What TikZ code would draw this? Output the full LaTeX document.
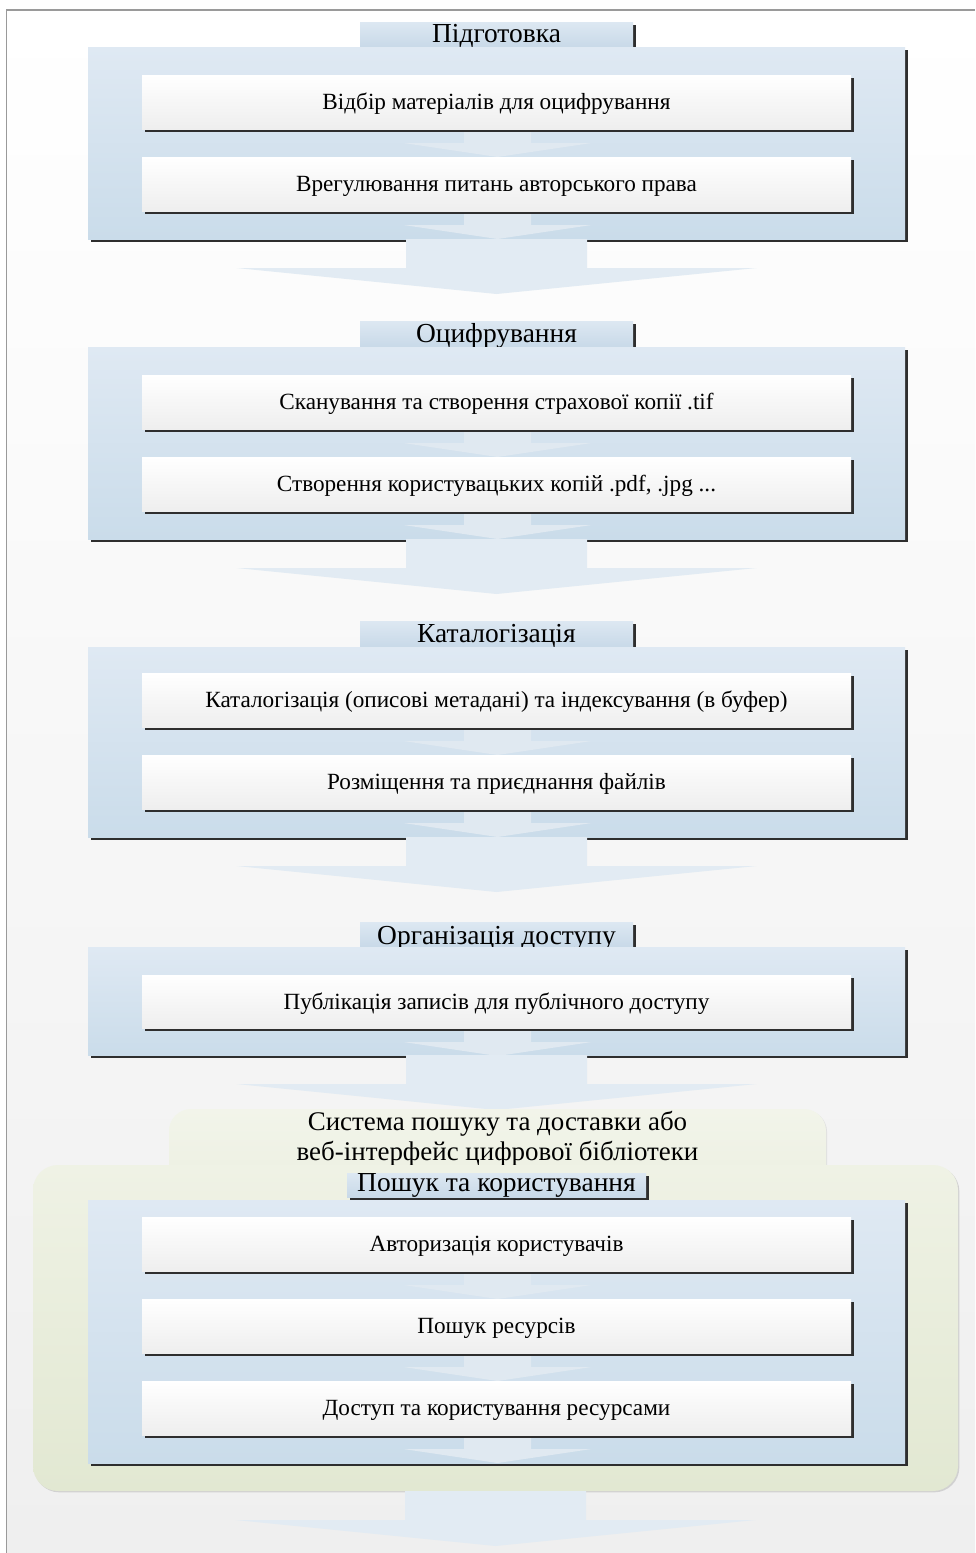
\documentclass[tikz,border=0pt]{standalone}
\usepackage{fontspec}
\setmainfont{Liberation Serif}
\usetikzlibrary{shadows}

\definecolor{frameline}{HTML}{9A9A9A}
\definecolor{bgbottom}{HTML}{EFEFEF}
\definecolor{blueTop}{HTML}{DFE9F3}
\definecolor{blueBot}{HTML}{CADCEA}
\definecolor{tabTop}{HTML}{DDE8F2}
\definecolor{tabBot}{HTML}{C8D9E8}
\definecolor{innerBot}{HTML}{EEEEEE}
\definecolor{arrowSide}{HTML}{E2EBF3}
\definecolor{arrowMid}{HTML}{C9DBEA}
\definecolor{smallSide}{HTML}{E0E9F1}
\definecolor{smallMid}{HTML}{FBFCFD}
\definecolor{greenTop}{HTML}{EFF2E5}
\definecolor{greenBot}{HTML}{E2E8D2}
\definecolor{greenBackTop}{HTML}{F2F4EA}
\definecolor{greenBackBot}{HTML}{EBEFDF}
\definecolor{shadowDark}{HTML}{2E2E2E}

% a box given by its pixel corners (x1,y1) and (x2,y2)
\newcommand\pbox[7]{%
  \node[#6, minimum width={(#4-#2)*0.75pt}, minimum height={(#5-#3)*0.75pt}]
    (#1) at ({(#2+#4)/2},{(#3+#5)/2}) {#7};}

% wide block arrow between stages
\newcommand\bigarrow[1]{%
  \shade[bigarrowshade, shift={(#1)}]
    (-90.5,0) -- (-90.5,29) -- (-260,29) -- (0,55) -- (260,29) -- (90.5,29) -- (90.5,0) -- cycle;}

% small block arrow between steps of one stage
\newcommand\smallarrow[1]{%
  \shade[smallarrowshade, shift={(#1)}]
    (-33.5,0) -- (-33.5,14) -- (-94,14) -- (0,28) -- (94,14) -- (33.5,14) -- (33.5,0) -- cycle;}

\tikzset{
  boxbase/.style={rectangle, inner sep=0pt, outer sep=0pt},
  darkshadow/.style={drop shadow={opacity=1, fill=shadowDark, shadow xshift=2.2pt, shadow yshift=-2.2pt}},
  stagebox/.style={boxbase, top color=blueTop, bottom color=blueBot, darkshadow},
  stagetab/.style={boxbase, top color=tabTop, bottom color=tabBot, darkshadow,
    text height=12.6pt, text depth=0pt,
    font=\fontsize{20.6pt}{24pt}\selectfont},
  stepbox/.style={boxbase, top color=white, bottom color=innerBot, darkshadow,
    text height=11.6pt, text depth=0pt,
    font=\fontsize{17.4pt}{20pt}\selectfont},
  bigarrowshade/.style={left color=arrowSide, middle color=arrowMid, right color=arrowSide},
  smallarrowshade/.style={left color=smallSide, middle color=smallMid, right color=smallSide},
  greenfront/.style={boxbase, rounded corners=18.75pt, top color=greenTop, bottom color=greenBot,
    drop shadow={opacity=1, fill=black!18, shadow xshift=1pt, shadow yshift=-1pt}},
  greenback/.style={boxbase, rounded corners=16.5pt, top color=greenBackTop, bottom color=greenBackBot,
    drop shadow={opacity=1, fill=black!12, shadow xshift=0.8pt, shadow yshift=-0.8pt}},
}

\begin{document}
\begin{tikzpicture}[x=0.75pt, y=-0.75pt]
\useasboundingbox (0,0) rectangle (975,1553);
\fill[white] (0,0) rectangle (975,1553);
\shade[top color=white, bottom color=bgbottom] (6.5,10) rectangle (975,1553);
\draw[frameline, line width=1.2pt] (6.5,1553) -- (6.5,10) -- (975,10);

% ---------- Stage 1 ----------
\pbox{t1}{360}{22}{633}{47}{stagetab}{Підготовка}
\pbox{s1}{88}{47}{905}{239}{stagebox}{}
\smallarrow{497.5,129}
\smallarrow{497.5,211}
\pbox{s1a}{142}{75}{851}{129}{stepbox}{Відбір матеріалів для оцифрування}
\pbox{s1b}{142}{157}{851}{211}{stepbox}{Врегулювання питань авторського права}
\bigarrow{s1.south}

% ---------- Stage 2 ----------
\pbox{t2}{360}{321}{633}{347}{stagetab}{Оцифрування}
\pbox{s2}{88}{347}{905}{539}{stagebox}{}
\smallarrow{497.5,429}
\smallarrow{497.5,511}
\pbox{s2a}{142}{375}{851}{429}{stepbox}{Сканування та створення страхової копії .tif}
\pbox{s2b}{142}{457}{851}{511}{stepbox}{Створення користувацьких копій .pdf, .jpg ...}
\bigarrow{s2.south}

% ---------- Stage 3 ----------
\pbox{t3}{360}{621}{633}{647}{stagetab}{Каталогізація}
\pbox{s3}{88}{647}{905}{837}{stagebox}{}
\smallarrow{497.5,727}
\smallarrow{497.5,809}
\pbox{s3a}{142}{673}{851}{727}{stepbox}{Каталогізація (описові метадані) та індексування (в буфер)}
\pbox{s3b}{142}{755}{851}{809}{stepbox}{Розміщення та приєднання файлів}
\bigarrow{s3.south}

% ---------- Stage 4 ----------
\pbox{t4}{360}{922}{633}{947}{stagetab, text height=15pt}{Організація доступу}
\pbox{s4}{88}{947}{905}{1055}{stagebox}{}
\smallarrow{497.5,1028}
\pbox{s4a}{142}{975}{851}{1028}{stepbox}{Публікація записів для публічного доступу}
\bigarrow{s4.south}

% ---------- Delivery system ----------
\pbox{g1}{169}{1109}{826}{1210}{greenback}{}
\node[font=\fontsize{20.2pt}{22.5pt}\selectfont, align=center, inner sep=0pt] (g1t) at (497.5,1139)
  {Система пошуку та доставки або\\веб-інтерфейс цифрової бібліотеки};
\pbox{g2}{33}{1165}{958}{1491}{greenfront}{}

% ---------- Stage 5 ----------
\pbox{t5}{347}{1173}{646}{1197}{stagetab, text height=9.4pt}{Пошук та користування}
\pbox{s5}{88}{1200}{905}{1463}{stagebox}{}
\smallarrow{497.5,1271}
\smallarrow{497.5,1353}
\smallarrow{497.5,1435}
\pbox{s5a}{142}{1217}{851}{1271}{stepbox}{Авторизація користувачів}
\pbox{s5b}{142}{1299}{851}{1353}{stepbox}{Пошук ресурсів}
\pbox{s5c}{142}{1381}{851}{1435}{stepbox}{Доступ та користування ресурсами}
\bigarrow{g2.south}
\end{tikzpicture}
\end{document}
